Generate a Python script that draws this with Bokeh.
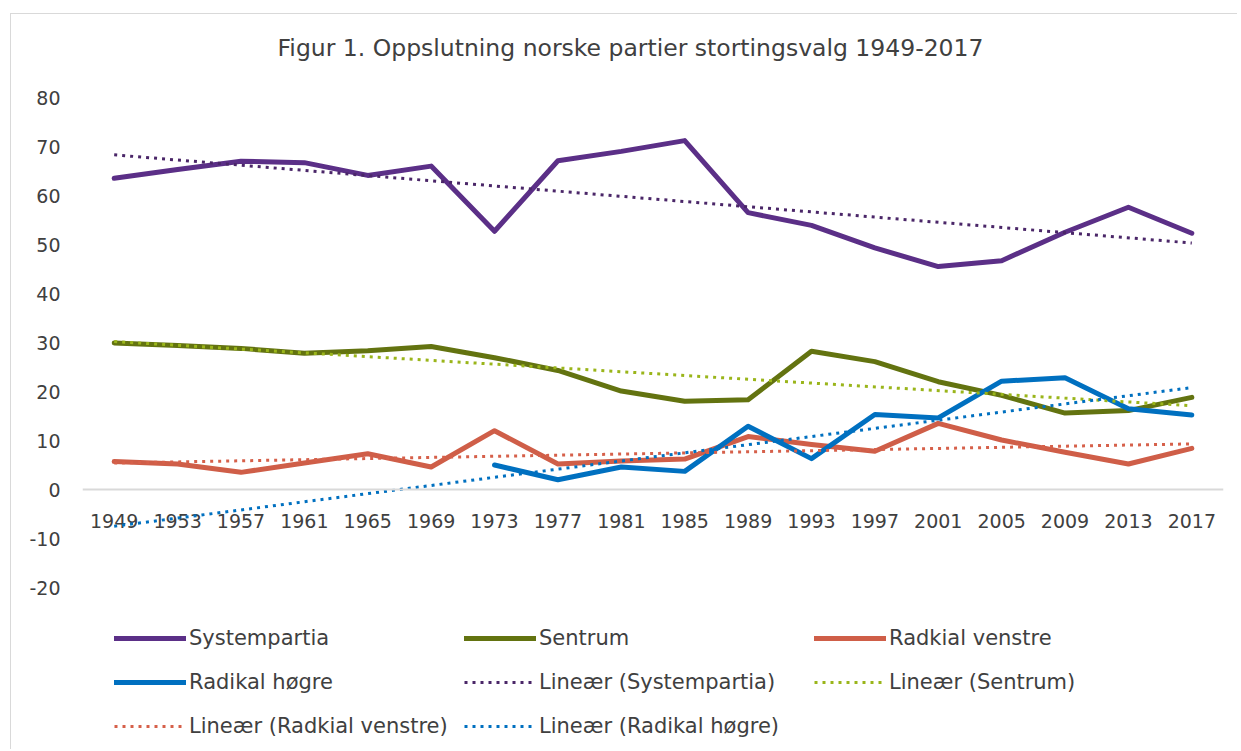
import math
from bokeh.plotting import figure
from bokeh.models import Range1d, FactorRange, FixedTicker, Span, Legend, LegendItem, Label
from bokeh.core.properties import value
from bokeh.embed import file_html
from bokeh.resources import INLINE

# ---- data ----
years = ["1949", "1953", "1957", "1961", "1965", "1969", "1973", "1977", "1981",
         "1985", "1989", "1993", "1997", "2001", "2005", "2009", "2013", "2017"]
systempartia = [63.5, 65.3, 67.0, 66.7, 64.1, 66.0, 52.7, 67.1, 69.0,
                71.2, 56.5, 53.9, 49.3, 45.5, 46.7, 52.5, 57.6, 52.3]
sentrum = [29.9, 29.4, 28.8, 27.8, 28.3, 29.2, 26.9, 24.3, 20.1,
           18.0, 18.3, 28.2, 26.1, 22.0, 19.2, 15.6, 16.1, 18.8]
radikal_venstre = [5.7, 5.2, 3.5, 5.4, 7.3, 4.6, 12.0, 5.2, 5.8,
                   6.2, 10.8, 9.2, 7.8, 13.5, 10.1, 7.6, 5.2, 8.4]
radikal_hogre = [None, None, None, None, None, None, 5.0, 2.0, 4.6,
                 3.7, 12.9, 6.3, 15.3, 14.6, 22.1, 22.8, 16.5, 15.2]
# linear trend lines: values at first and last year
trend_systempartia = [68.3, 50.3]
trend_sentrum = [30.2, 17.1]
trend_radikal_venstre = [5.4, 9.3]
trend_radikal_hogre = [-7.5, 20.8]
y_ticks = [-20, -10, 0, 10, 20, 30, 40, 50, 60, 70, 80]
y_tick_labels = ["-20", "-10", "0", "10", "20", "30", "40", "50", "60", "70", "80"]

series_names = ["Systempartia", "Sentrum", "Radkial venstre", "Radikal høgre"]
trend_names = ["Lineær (Systempartia)", "Lineær (Sentrum)",
               "Lineær (Radkial venstre)", "Lineær (Radikal høgre)"]
title_text = "Figur 1. Oppslutning norske partier stortingsvalg 1949-2017"

# ---- styles ----
FONT = "DejaVu Sans"
TXT = "#404040"
colors = ["#5B2F87", "#637310", "#CF5E48", "#0070C0"]
trend_colors = ["#4A2668", "#9AB51A", "#D6604A", "#0070C0"]

FIG_TOP = 14      # page y of figure top
FIG_H = 736
PAGE_BOTTOM = FIG_TOP + FIG_H
PX = 4.9          # pixels per unit
ZERO_Y = 489      # page y of value 0

p = figure(width=1227, height=FIG_H,
           x_range=FactorRange(*years, range_padding=0),
           y_range=Range1d(-(PAGE_BOTTOM - ZERO_Y) / PX, (ZERO_Y - FIG_TOP) / PX),
           x_axis_location=None,
           output_backend="svg", toolbar_location=None,
           min_border_left=71, min_border_right=15,
           min_border_top=0, min_border_bottom=0)
p.styles = {"margin-left": "10px", "margin-top": "13px",
            "border-left": "1px solid #d9d9d9", "border-top": "1px solid #d9d9d9"}
p.outline_line_color = None
p.background_fill_color = "white"
p.border_fill_color = "white"
p.xgrid.grid_line_color = None
p.ygrid.grid_line_color = None

ax = p.yaxis[0]
ax.ticker = FixedTicker(ticks=y_ticks)
ax.major_label_overrides = dict(zip(y_ticks, y_tick_labels))
ax.axis_line_color = None
ax.major_tick_line_color = None
ax.minor_tick_line_color = None
ax.major_label_standoff = 16
ax.major_label_text_font = FONT
ax.major_label_text_font_size = "19px"
ax.major_label_text_color = TXT

# zero line
p.add_layout(Span(location=0, dimension="width", line_color="#d9d9d9", line_width=2))

# category labels at the zero line
p.text(x=years, y=[0] * len(years), text=years, text_align="center",
       text_baseline="middle", y_offset=31, text_font=value(FONT),
       text_font_size="19px", text_color=TXT)

def clean(v):
    return [float("nan") if a is None else a for a in v]

data = [systempartia, sentrum, radikal_venstre, radikal_hogre]
trends = [trend_systempartia, trend_sentrum, trend_radikal_venstre, trend_radikal_hogre]

main_r = []
for vals, c in zip(data, colors):
    r = p.line(x=years, y=clean(vals), line_color=c, line_width=5,
               line_join="round", line_cap="round")
    main_r.append(r)

trend_r = []
for vals, c in zip(trends, trend_colors):
    r = p.line(x=[years[0], years[-1]], y=vals, line_color=c, line_width=3,
               line_dash="3 5")
    trend_r.append(r)

# chart title (inside the frame area, above the plotted range)
p.add_layout(Label(x=631 - 83, y=PAGE_BOTTOM - 47, x_units="screen", y_units="screen",
                   text=title_text, text_align="center", text_baseline="middle",
                   text_font=FONT, text_font_size="23.5px", text_color=TXT))

cols = [
    [(series_names[0], main_r[0]), (series_names[3], main_r[3]), (trend_names[2], trend_r[2])],
    [(series_names[1], main_r[1]), (trend_names[0], trend_r[0]), (trend_names[3], trend_r[3])],
    [(series_names[2], main_r[2]), (trend_names[1], trend_r[1])],
]
IH, SP = 28, 16
xs = [32, 382, 732]
for items, lx in zip(cols, xs):
    n = len(items)
    h = n * IH + (n - 1) * SP
    ly = PAGE_BOTTOM - (638 - IH / 2 + h)
    leg = Legend(items=[LegendItem(label=t, renderers=[r]) for t, r in items],
                 location=(lx, ly), orientation="vertical",
                 glyph_width=72, glyph_height=IH, label_height=IH, spacing=SP,
                 label_standoff=3, padding=0, margin=0,
                 border_line_color=None, background_fill_alpha=0,
                 label_text_font=FONT, label_text_font_size="21px",
                 label_text_color=TXT)
    p.add_layout(leg, "center")

open("out.html", "w").write(file_html(p, INLINE))
